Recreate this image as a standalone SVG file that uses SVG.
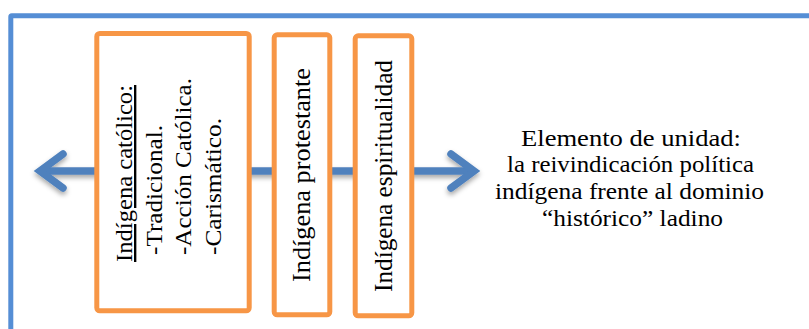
<svg xmlns="http://www.w3.org/2000/svg" width="809" height="329" viewBox="0 0 809 329">
  <style>
    .frame { fill: none; stroke: #558ED5; stroke-width: 5; }
    .box { fill: #FFFFFF; stroke: #F79646; stroke-width: 5; }
    .lbl { font-family: "Liberation Serif", "Times New Roman", serif; fill: #000000; }
    .axis { fill: none; stroke: #4F81BD; stroke-width: 7.5; }
    .head { fill: none; stroke: #4F81BD; stroke-width: 7.5; stroke-linejoin: miter; stroke-linecap: round; }
  </style>
  <defs>
    <filter id="soft-shadow" x="-5%" y="-50%" width="110%" height="200%">
      <feDropShadow dx="0" dy="3" stdDeviation="2.5" flood-color="#000000" flood-opacity="0.35"/>
    </filter>
  </defs>

  <rect width="809" height="329" fill="#FFFFFF"/>

  <!-- outer frame, running past the right and bottom edges -->
  <rect class="frame" x="10.8" y="15.8" width="830" height="340" rx="1"/>

  <!-- double-headed axis behind the boxes -->
  <g id="connectors" filter="url(#soft-shadow)">
    <line class="axis" x1="40" y1="171" x2="472" y2="171"/>
    <polyline class="head" points="63,154 40,171 63,188"/>
    <polyline class="head" points="451,154 474,171 451,188"/>
  </g>

  <g id="catolico">
    <rect class="box" x="96.8" y="33.5" width="152.4" height="277.3" rx="3"/>
    <text class="lbl" font-size="23.5" text-decoration="underline" transform="translate(132,262) rotate(-90)" textLength="177" lengthAdjust="spacingAndGlyphs">Indígena católico:</text>
    <text class="lbl" font-size="23.5" transform="translate(161.5,255) rotate(-90)" textLength="130" lengthAdjust="spacingAndGlyphs">-Tradicional.</text>
    <text class="lbl" font-size="23.5" transform="translate(191,255) rotate(-90)" textLength="177" lengthAdjust="spacingAndGlyphs">-Acción Católica.</text>
    <text class="lbl" font-size="23.5" transform="translate(220.5,255) rotate(-90)" textLength="137" lengthAdjust="spacingAndGlyphs">-Carismático.</text>
  </g>

  <g id="protestante">
    <rect class="box" x="274.2" y="34.8" width="55.6" height="280" rx="3"/>
    <text class="lbl" font-size="25.5" text-anchor="middle" transform="translate(310,175) rotate(-90)" textLength="214" lengthAdjust="spacingAndGlyphs">Indígena protestante</text>
  </g>

  <g id="espiritualidad">
    <rect class="box" x="355.2" y="35.8" width="56.6" height="280" rx="3"/>
    <text class="lbl" font-size="25.5" text-anchor="middle" transform="translate(392,176) rotate(-90)" textLength="232" lengthAdjust="spacingAndGlyphs">Indígena espiritualidad</text>
  </g>

  <g id="unidad">
    <text class="lbl" font-size="24" text-anchor="middle">
      <tspan x="634" y="145.5" textLength="220" lengthAdjust="spacingAndGlyphs">Elemento de unidad:</tspan>
      <tspan x="633.5" y="172.2" textLength="247" lengthAdjust="spacingAndGlyphs">la reivindicación política</tspan>
      <tspan x="632.5" y="198.9" textLength="269" lengthAdjust="spacingAndGlyphs">indígena frente al dominio</tspan>
      <tspan x="632.5" y="225.6" textLength="181" lengthAdjust="spacingAndGlyphs">“histórico” ladino</tspan>
    </text>
  </g>
</svg>
